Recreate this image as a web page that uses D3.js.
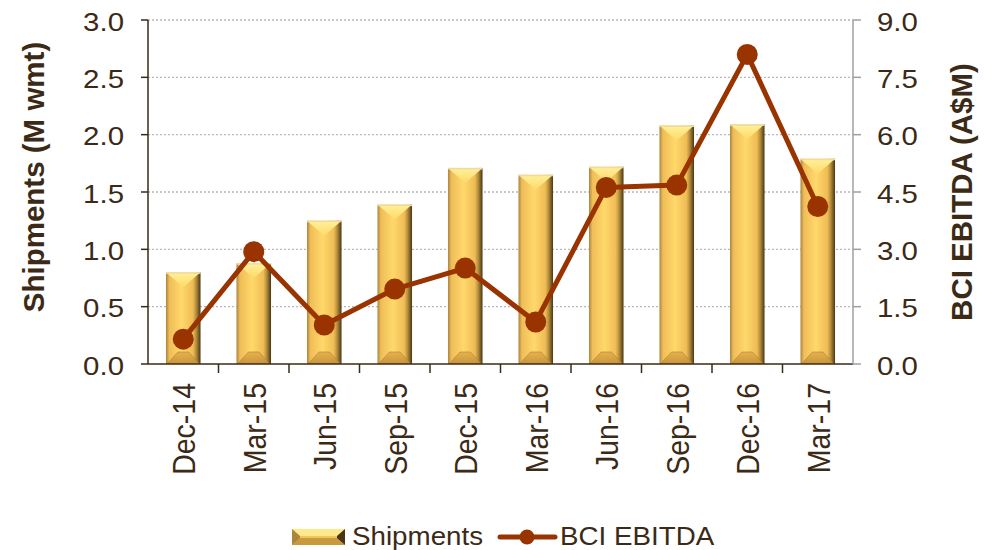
<!DOCTYPE html>
<html>
<head>
<meta charset="utf-8">
<script src="https://cdn.jsdelivr.net/npm/d3@7"></script>
<style>
  body { margin: 0; background: #fff; }
  text { font-family: Arial, "Liberation Sans", sans-serif; fill: #3b2a16; }
</style>
</head>
<body>
<div class="chart"></div>
<script>
var quarters = ["Dec-14","Mar-15","Jun-15","Sep-15","Dec-15","Mar-16","Jun-16","Sep-16","Dec-16","Mar-17"];
var shipments = [0.80, 0.88, 1.25, 1.39, 1.71, 1.65, 1.72, 2.08, 2.09, 1.79];
var ebitda = [0.65, 2.94, 1.02, 1.96, 2.51, 1.10, 4.62, 4.68, 8.10, 4.12];
var leftTicks = [0, 0.5, 1.0, 1.5, 2.0, 2.5, 3.0];
var rightTicks = [0, 1.5, 3.0, 4.5, 6.0, 7.5, 9.0];

var margin = {top: 20, right: 142, bottom: 186, left: 148},
    W = 995, H = 550,
    width = W - margin.left - margin.right,
    height = H - margin.top - margin.bottom,
    sx = 1.11; // text in the original is a bit wide

var svg = d3.select(".chart").append("svg")
    .attr("width", W)
    .attr("height", H);

var defs = svg.append("defs");
var g1 = defs.append("linearGradient").attr("id", "barFace").attr("x1", 0).attr("x2", 1);
[[0, "#a9853f"], [0.1, "#f0bd58"], [0.45, "#ffd86a"], [0.78, "#efbc55"], [0.88, "#b08a3a"], [1, "#4a3614"]]
  .forEach(function(s) { g1.append("stop").attr("offset", s[0]).attr("stop-color", s[1]); });
var g2 = defs.append("linearGradient").attr("id", "barTop").attr("x1", 0).attr("x2", 0).attr("y1", 0).attr("y2", 1);
g2.append("stop").attr("offset", 0).attr("stop-color", "#fff29a");
g2.append("stop").attr("offset", 1).attr("stop-color", "#ffd86a");
var g3 = defs.append("linearGradient").attr("id", "barBot").attr("x1", 0).attr("x2", 0).attr("y1", 0).attr("y2", 1);
g3.append("stop").attr("offset", 0).attr("stop-color", "#e3ae4c");
g3.append("stop").attr("offset", 1).attr("stop-color", "#c38f38");

var g = svg.append("g")
    .attr("transform", "translate(" + margin.left + "," + margin.top + ")");

var x = d3.scaleBand().domain(quarters).range([0, width]);
var y = d3.scaleLinear().domain([0, 3]).range([height, 0]);
var y2 = d3.scaleLinear().domain([0, 9]).range([height, 0]);

// grid
g.selectAll(".grid")
  .data(leftTicks.slice(1))
  .enter().append("line")
  .attr("x1", 0).attr("x2", width)
  .attr("y1", function(d) { return y(d); })
  .attr("y2", function(d) { return y(d); })
  .attr("stroke", "#b8b8b8")
  .attr("stroke-width", 1.3)
  .attr("stroke-dasharray", "2,2");

// bars with bevel
var bw = x.bandwidth() * 0.49;
var bars = g.selectAll(".bar")
  .data(shipments)
  .enter().append("g")
  .attr("class", "bar")
  .attr("transform", function(d, i) {
      return "translate(" + (x(quarters[i]) + (x.bandwidth() - bw) / 2) + "," + y(d) + ")";
  });

function bevel(el, w, h) {
    var bt = Math.min(w / 2, h / 2, 15), bb = Math.min(w / 2 - 2, h / 2, 12);
    el.append("rect").attr("width", w).attr("height", h).attr("fill", "url(#barFace)");
    // bottom facet: trapezoid
    el.append("path")
      .attr("d", "M1," + h + "L" + bb + "," + (h - bb) + "L" + (w - bb) + "," + (h - bb) + "L" + (w - 1) + "," + h + "Z")
      .attr("fill", "url(#barBot)").attr("opacity", 0.9);
    el.append("path")
      .attr("d", "M1," + h + "L" + bb + "," + (h - bb) + "L" + (w - bb) + "," + (h - bb) + "L" + (w - 1) + "," + h)
      .attr("fill", "none").attr("stroke", "#a87a30").attr("stroke-width", 0.8).attr("opacity", 0.7);
    // top facet: V
    el.append("path")
      .attr("d", "M0,0L" + w + ",0L" + (w / 2) + "," + bt + "Z")
      .attr("fill", "url(#barTop)");
    el.append("rect").attr("width", w).attr("height", 1.5).attr("fill", "#f2d9a0");
}

bars.each(function(d) {
    bevel(d3.select(this), bw, height - y(d));
});

// x axis
var xAxis = g.append("g")
  .attr("transform", "translate(0," + height + ")");
xAxis.append("line").attr("x1", 0).attr("x2", width).attr("stroke", "#3b2a16").attr("stroke-width", 1.5);
xAxis.selectAll(".xt")
  .data(quarters.slice(1))
  .enter().append("line")
  .attr("x1", function(d) { return x(d); })
  .attr("x2", function(d) { return x(d); })
  .attr("y1", 0).attr("y2", 9)
  .attr("stroke", "#3b2a16").attr("stroke-width", 1.5);
xAxis.selectAll(".xl")
  .data(quarters)
  .enter().append("text")
  .attr("transform", function(d) {
      return "translate(" + (x(d) + x.bandwidth() / 2 + 12) + ",19) scale(" + sx + ",1) rotate(-90)";
  })
  .attr("text-anchor", "end")
  .style("font-size", "28.5px")
  .text(function(d) { return d; });

// left axis
var yAxis = g.append("g");
yAxis.append("line").attr("y1", 0).attr("y2", height).attr("stroke", "#3b2a16").attr("stroke-width", 1.5);
yAxis.selectAll(".yt")
  .data(leftTicks)
  .enter().append("line")
  .attr("x1", -7).attr("x2", 0)
  .attr("y1", function(d) { return y(d); })
  .attr("y2", function(d) { return y(d); })
  .attr("stroke", "#3b2a16").attr("stroke-width", 1.5);
yAxis.selectAll(".yl")
  .data(leftTicks)
  .enter().append("text")
  .attr("transform", function(d) { return "translate(-24," + y(d) + ") scale(" + sx + ",1)"; })
  .attr("dy", "0.4em")
  .attr("text-anchor", "end")
  .style("font-size", "26.5px")
  .text(function(d) { return d3.format(".1f")(d); });

// right axis
var yAxis2 = g.append("g").attr("transform", "translate(" + width + ",0)");
yAxis2.append("line").attr("y1", 0).attr("y2", height).attr("stroke", "#a0a0a0").attr("stroke-width", 1.5);
yAxis2.selectAll(".yt2")
  .data(rightTicks)
  .enter().append("line")
  .attr("x1", 0).attr("x2", 8)
  .attr("y1", function(d) { return y2(d); })
  .attr("y2", function(d) { return y2(d); })
  .attr("stroke", "#a0a0a0").attr("stroke-width", 1.5);
yAxis2.selectAll(".yl2")
  .data(rightTicks)
  .enter().append("text")
  .attr("transform", function(d) { return "translate(24," + y2(d) + ") scale(" + sx + ",1)"; })
  .attr("dy", "0.4em")
  .attr("text-anchor", "start")
  .style("font-size", "26.5px")
  .text(function(d) { return d3.format(".1f")(d); });

// axis titles
svg.append("text")
  .attr("transform", "translate(44,177) rotate(-90)")
  .attr("text-anchor", "middle")
  .style("font-size", "29.5px").style("font-weight", "bold")
  .text("Shipments (M wmt)");
svg.append("text")
  .attr("transform", "translate(972," + (margin.top + height / 2) + ") rotate(-90)")
  .attr("text-anchor", "middle")
  .style("font-size", "29.5px").style("font-weight", "bold")
  .text("BCI EBITDA (A$M)");

// line
var line = d3.line()
  .x(function(d, i) { return x(quarters[i]) + x.bandwidth() / 2; })
  .y(function(d) { return y2(d); });
g.append("path")
  .datum(ebitda)
  .attr("d", line)
  .attr("fill", "none")
  .attr("stroke", "#993300")
  .attr("stroke-width", 5)
  .attr("stroke-linejoin", "round");
g.selectAll(".dot")
  .data(ebitda)
  .enter().append("circle")
  .attr("cx", function(d, i) { return x(quarters[i]) + x.bandwidth() / 2; })
  .attr("cy", function(d) { return y2(d); })
  .attr("r", 10.5)
  .attr("fill", "#993300");

// legend
var leg = svg.append("g").attr("transform", "translate(292,537)");
var sw = leg.append("g").attr("transform", "translate(0,-8)");
sw.append("rect").attr("width", 53).attr("height", 16).attr("fill", "#f3c45e");
sw.append("path").attr("d", "M0,0L53,0L45,7L8,7Z").attr("fill", "#ffe98a");
sw.append("path").attr("d", "M0,16L53,16L45,9L8,9Z").attr("fill", "#c9993e");
sw.append("path").attr("d", "M0,0L8,7L8,9L0,16Z").attr("fill", "#a9853f");
sw.append("path").attr("d", "M53,0L45,7L45,9L53,16Z").attr("fill", "#4a3614");
leg.append("text").attr("transform", "translate(60,8) scale(" + sx + ",1)").style("font-size", "25px").text("Shipments");
leg.append("line").attr("x1", 208).attr("x2", 263).attr("stroke", "#993300").attr("stroke-width", 5).attr("stroke-linecap", "round");
leg.append("circle").attr("cx", 235).attr("r", 7.5).attr("fill", "#993300");
leg.append("text").attr("transform", "translate(268,8) scale(" + sx + ",1)").style("font-size", "25px").text("BCI EBITDA");
</script>
</body>
</html>
